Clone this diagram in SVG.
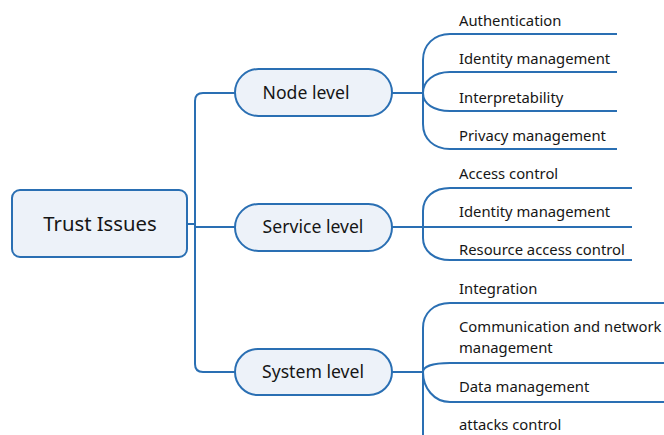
<svg xmlns="http://www.w3.org/2000/svg" width="664" height="435" viewBox="0 0 664 435">
<style>
.box{fill:#edf2f9;stroke:#2a6fb3;stroke-width:2}
.ln{fill:none;stroke:#2a6fb3;stroke-width:2}
text{font-family:"Noto Sans","Open Sans","DejaVu Sans",sans-serif;fill:#161616}
.root{font-size:20.3px}
.mid{font-size:17.6px}
.leaf{font-size:14.8px}
</style>
<rect width="664" height="435" fill="#ffffff"/>
<g id="connectors">
<path class="ln" d="M187,224 H195"/>
<path class="ln" d="M235,93 H203 C198,93 195,96 195,101 V364 C195,369 198,372 203,372 H235"/>
<path class="ln" d="M195,227 H235"/>
<path class="ln" d="M392,93 H423"/>
<path class="ln" d="M617,34 H450 C434,34 423,45 423,60 V124 C423,139 434,149 450,149 H617"/>
<path class="ln" d="M617,72 H450 C434,72 423,81 423,93 C423,104 434,111 450,111 H617"/>
<path class="ln" d="M392,227 H632"/>
<path class="ln" d="M632,188 H450 C434,188 423,197 423,211 V238 C423,251 434,260 450,260 H632"/>
<path class="ln" d="M392,372 H423"/>
<path class="ln" d="M664,303 H450 C434,303 423,313 423,328 V445"/>
<path class="ln" d="M664,363 H450 C434,363 423,366 423,372 C423,388 434,402 450,402 H664"/>
</g>
<g id="root"><rect class="box" x="12" y="190" width="175" height="67" rx="8"/><text class="root" x="100" y="231" text-anchor="middle">Trust Issues</text></g>
<g id="node-level"><rect class="box" x="235" y="69" width="157" height="47" rx="23.5"/><text class="mid" x="306" y="99" text-anchor="middle">Node level</text></g>
<g id="service-level"><rect class="box" x="235" y="204" width="157" height="47" rx="23.5"/><text class="mid" x="313" y="233" text-anchor="middle">Service level</text></g>
<g id="system-level"><rect class="box" x="235" y="349" width="157" height="46" rx="23"/><text class="mid" x="313" y="378" text-anchor="middle">System level</text></g>
<g id="leaf-authentication"><text class="leaf" x="459" y="26">Authentication</text></g>
<g id="leaf-identity-1"><text class="leaf" x="459" y="64">Identity management</text></g>
<g id="leaf-interpretability"><text class="leaf" x="459" y="103">Interpretability</text></g>
<g id="leaf-privacy"><text class="leaf" x="459" y="141">Privacy management</text></g>
<g id="leaf-access"><text class="leaf" x="459" y="179">Access control</text></g>
<g id="leaf-identity-2"><text class="leaf" x="459" y="217">Identity management</text></g>
<g id="leaf-resource"><text class="leaf" x="459" y="255">Resource access control</text></g>
<g id="leaf-integration"><text class="leaf" x="459" y="294">Integration</text></g>
<g id="leaf-communication"><text class="leaf" x="459" y="332">Communication and network</text><text class="leaf" x="459" y="353">management</text></g>
<g id="leaf-data"><text class="leaf" x="459" y="392">Data management</text></g>
<g id="leaf-attacks"><text class="leaf" x="459" y="430">attacks control</text></g>
</svg>
